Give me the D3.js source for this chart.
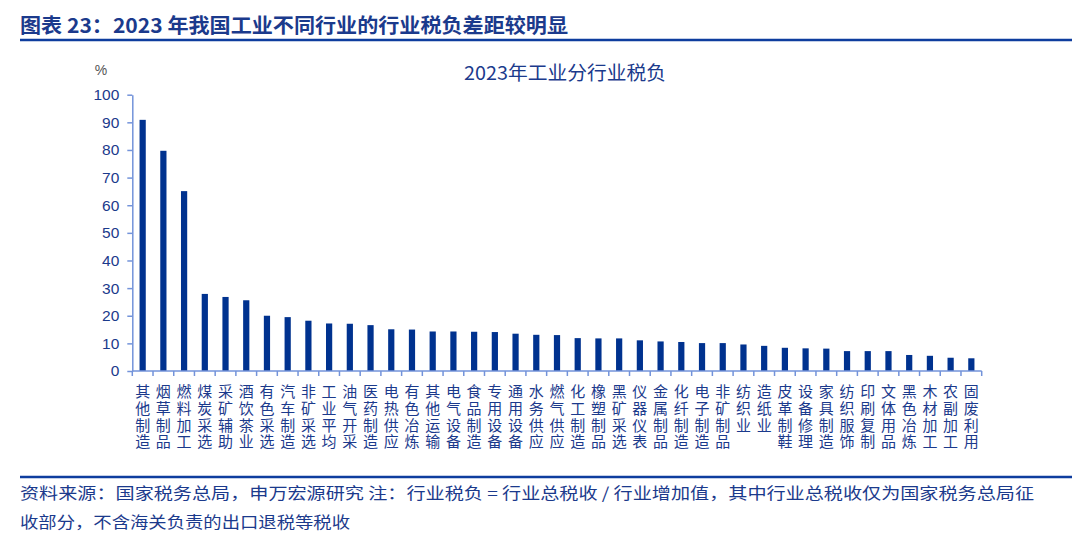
<!DOCTYPE html>
<html>
<head>
<meta charset="utf-8">
<script src="https://cdn.jsdelivr.net/npm/d3@7"></script>
<style>
  body { margin: 0; background: #fff; }
  svg { display: block; }
  text { font-family: "Liberation Sans", "Noto Sans CJK SC", sans-serif; }
  .cjk { font-family: "Noto Sans CJK SC", sans-serif; }
</style>
</head>
<body>
<div id="vis"></div>
<script>
// industries, sorted as in the source chart
const categories = [
  '其他制造', '烟草制品', '燃料加工', '煤炭采选', '采矿辅助', '酒饮茶业', '有色采选',
  '汽车制造', '非矿采选', '工业平均', '油气开采', '医药制造', '电热供应', '有色冶炼',
  '其他运输', '电气设备', '食品制造', '专用设备', '通用设备', '水务供应', '燃气供应',
  '化工制造', '橡塑制品', '黑矿采选', '仪器仪表', '金属制品', '化纤制造', '电子制造',
  '非矿制品', '纺织业', '造纸业', '皮革制鞋', '设备修理', '家具制造', '纺织服饰',
  '印刷复制', '文体用品', '黑色冶炼', '木材加工', '农副加工', '固废利用'
];
// industry tax burden, %
const taxBurden = [
  90.9, 79.7, 65.1, 27.9, 26.8, 25.6, 20.0,
  19.5, 18.2, 17.2, 17.1, 16.6, 15.1, 15.0,
  14.3, 14.3, 14.2, 14.1, 13.5, 13.1, 13.0,
  11.9, 11.8, 11.8, 11.1, 10.7, 10.5, 10.1,
  10.1, 9.6, 9.1, 8.4, 8.2, 8.1, 7.2,
  7.2, 7.2, 5.8, 5.5, 4.8, 4.6
];
const yTicks = [0, 10, 20, 30, 40, 50, 60, 70, 80, 90, 100];

const titleText = '图表 23：2023 年我国工业不同行业的行业税负差距较明显';
const chartTitle = '2023年工业分行业税负';
const noteLines = [
  '资料来源：国家税务总局，申万宏源研究 注：行业税负 = 行业总税收 / 行业增加值，其中行业总税收仅为国家税务总局征',
  '收部分，不含海关负责的出口退税等税收'
];

const W = 1080, H = 548;
const navy = '#1B3A8C';
const barColor = '#00328F';
const axisColor = '#7393DA';

const svg = d3.select('#vis')
  .append('svg')
  .attr('width', W)
  .attr('height', H);

// header
svg.append('text')
  .attr('class', 'cjk')
  .attr('x', 20)
  .attr('y', 33)
  .attr('textLength', 548)
  .attr('lengthAdjust', 'spacingAndGlyphs')
  .style('font-size', '20px')
  .style('font-weight', 'bold')
  .attr('fill', navy)
  .text(titleText);

svg.append('line')
  .attr('x1', 20).attr('x2', 1072)
  .attr('y1', 40).attr('y2', 40)
  .attr('stroke', '#0E3D9E')
  .attr('stroke-width', 2.5);

// plot area
const x = d3.scaleBand()
  .domain(categories)
  .range([132.3, 981.7])
  .paddingInner(0.7)
  .paddingOuter(0.35);

const y = d3.scaleLinear()
  .domain([0, 100])
  .range([371, 94.7]);

const g = svg.append('g');

// chart title
g.append('text')
  .attr('class', 'cjk')
  .attr('x', 565)
  .attr('y', 80)
  .attr('text-anchor', 'middle')
  .attr('textLength', 202)
  .attr('lengthAdjust', 'spacingAndGlyphs')
  .style('font-size', '19px')
  .attr('fill', navy)
  .text(chartTitle);

// unit
g.append('text')
  .attr('x', 101)
  .attr('y', 75)
  .attr('text-anchor', 'middle')
  .style('font-size', '14px')
  .attr('fill', '#555')
  .text('%');

// bars
g.selectAll('rect.bar')
  .data(categories)
  .enter()
  .append('rect')
  .attr('class', 'bar')
  .attr('x', (d) => x(d))
  .attr('y', (d, i) => y(taxBurden[i]))
  .attr('width', x.bandwidth())
  .attr('height', (d, i) => y(0) - y(taxBurden[i]))
  .attr('fill', barColor);

// y axis
const yAxis = g.append('g')
  .attr('transform', 'translate(' + x.range()[0] + ',0)')
  .call(d3.axisLeft(y).tickValues(yTicks).tickSize(5).tickSizeOuter(0).tickPadding(8));
yAxis.select('.domain').attr('stroke', axisColor).attr('stroke-width', 1.5);
yAxis.selectAll('.tick line').attr('stroke', axisColor).attr('stroke-width', 1.5);
yAxis.selectAll('.tick text')
  .style('font-family', '"Liberation Sans", sans-serif')
  .style('font-size', '15.5px')
  .attr('fill', navy);

// x axis with ticks on category boundaries
const xAxis = g.append('g');
xAxis.append('line')
  .attr('x1', x.range()[0]).attr('x2', x.range()[1])
  .attr('y1', y(0)).attr('y2', y(0))
  .attr('stroke', axisColor)
  .attr('stroke-width', 1.5);
const bounds = categories.map((d) => x(d) + x.bandwidth() / 2 - x.step() / 2)
  .concat([x.range()[1]]);
xAxis.selectAll('line.tick')
  .data(bounds)
  .enter()
  .append('line')
  .attr('class', 'tick')
  .attr('x1', (d) => d).attr('x2', (d) => d)
  .attr('y1', y(0)).attr('y2', y(0) + 5)
  .attr('stroke', axisColor)
  .attr('stroke-width', 1.5);

// vertical category labels, one character per line
const labels = xAxis.selectAll('text.cat')
  .data(categories)
  .enter()
  .append('text')
  .attr('class', 'cjk cat')
  .attr('text-anchor', 'middle')
  .style('font-size', '15px')
  .attr('fill', navy);
labels.selectAll('tspan')
  .data((d) => Array.from(d).map((c) => ({c: c, cat: d})))
  .enter()
  .append('tspan')
  .attr('x', (d) => x(d.cat) + x.bandwidth() / 2)
  .attr('y', (d, i) => 397 + i * 16.8)
  .text((d) => d.c);

// footer
svg.append('line')
  .attr('x1', 20).attr('x2', 1072)
  .attr('y1', 477).attr('y2', 477)
  .attr('stroke', '#0E3D9E')
  .attr('stroke-width', 2.5);

svg.selectAll('text.note')
  .data(noteLines)
  .enter()
  .append('text')
  .attr('class', 'cjk note')
  .attr('x', 20)
  .attr('y', (d, i) => 499 + i * 29)
  .attr('textLength', (d, i) => i === 0 ? 1014 : 330)
  .attr('lengthAdjust', 'spacingAndGlyphs')
  .style('font-size', '16px')
  .attr('fill', navy)
  .text((d) => d);
</script>
</body>
</html>
